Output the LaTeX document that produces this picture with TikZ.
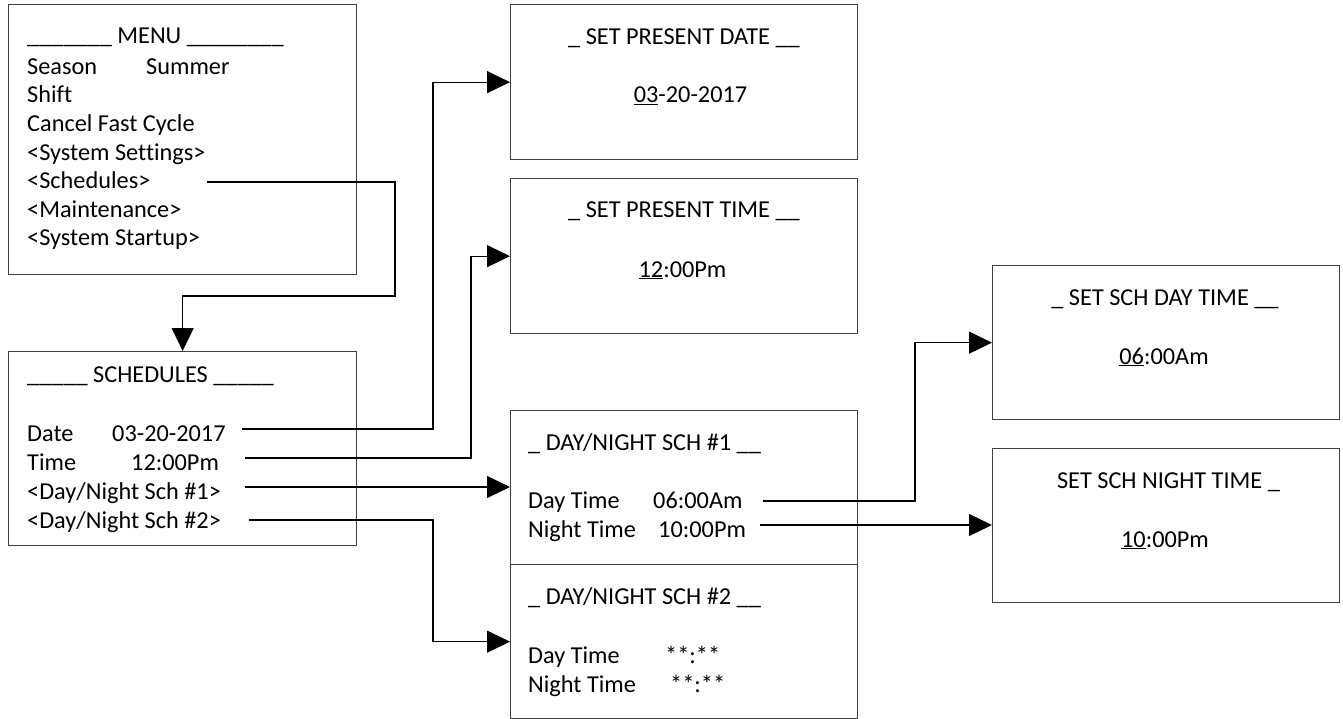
\documentclass[tikz,border=0pt]{standalone}
\usepackage{fontspec}
\setmainfont{Carlito}[Ligatures=NoCommon]
\usetikzlibrary{arrows.meta}
\begin{document}
\begin{tikzpicture}[x=1pt,y=-1pt,
  box/.style={draw=black!75,line width=1.3pt,inner sep=0pt,anchor=north west},
  txt/.style={anchor=base west,inner sep=0pt,font=\fontsize{24.3}{29}\selectfont},
  ctxt/.style={anchor=base,inner sep=0pt,font=\fontsize{24.3}{29}\selectfont},
  wire/.style={draw=black,line width=1.1pt},
  conn/.style={wire,-{Triangle[length=23pt,width=22pt]}}]
\useasboundingbox (0,0) rectangle (1343,719);
% boxes
\node[box,minimum width=348pt,minimum height=270pt] (menu) at (8,4) {};
\node[box,minimum width=348pt,minimum height=194pt] (sched) at (8,351) {};
\node[box,minimum width=347pt,minimum height=155pt] (sdate) at (510,4) {};
\node[box,minimum width=347pt,minimum height=155pt] (stime) at (510,178) {};
\node[box,minimum width=347pt,minimum height=154pt] (dn1) at (510,410) {};
\node[box,minimum width=347pt,minimum height=154pt] (dn2) at (510,564) {};
\node[box,minimum width=347pt,minimum height=154pt] (sday) at (992,265) {};
\node[box,minimum width=347pt,minimum height=154pt] (snight) at (992,448) {};
% menu texts
\node[txt] (m0) at (27,43.5) {\_\_\_\_\_\_\_ MENU \_\_\_\_\_\_\_\_};
\node[txt] (m1) at (27,74.5) {Season};
\node[txt] (m1v) at (146,74.5) {Summer};
\node[txt] (m2) at (27,103) {Shift};
\node[txt] (m3) at (27,132) {Cancel Fast Cycle};
\node[txt] (m4) at (27,160.5) {<System Settings>};
\node[txt] (m5) at (27,189) {<Schedules>};
\node[txt] (m6) at (27,217.5) {<Maintenance>};
\node[txt] (m7) at (27,246) {<System Startup>};
% schedules texts
\node[txt] (s0) at (27,382) {\_\_\_\_\_ SCHEDULES \_\_\_\_\_};
\node[txt] (s1) at (27,441) {Date};
\node[txt] (s1v) at (112,441) {03-20-2017};
\node[txt] (s2) at (27,470) {Time};
\node[txt] (s2v) at (131,470) {12:00Pm};
\node[txt] (s3) at (27,499) {<Day/Night Sch \#1>};
\node[txt] (s4) at (27,528) {<Day/Night Sch \#2>};
% set present date / time
\node[ctxt] (d0) at (684,45) {\_ SET PRESENT DATE \_\_};
\node[ctxt] (d1) at (690.5,103) {\underline{03}-20-2017};
\node[ctxt] (t0) at (684,218) {\_ SET PRESENT TIME \_\_};
\node[ctxt] (t1) at (682.5,277) {\underline{12}:00Pm};
% day/night sch #1
\node[txt] (a0) at (528,450) {\_ DAY/NIGHT SCH \#1 \_\_};
\node[txt] (a1) at (528,508) {Day Time};
\node[txt] (a1v) at (653,508) {06:00Am};
\node[txt] (a2) at (528,537) {Night Time};
\node[txt] (a2v) at (658,537) {10:00Pm};
% day/night sch #2
\node[txt] (b0) at (528,604) {\_ DAY/NIGHT SCH \#2 \_\_};
\node[txt] (b1) at (528,663) {Day Time};
\node[txt] (b1v) at (665,663) {**:**};
\node[txt] (b2) at (528,692) {Night Time};
\node[txt] (b2v) at (670,692) {**:**};
% set sch day / night time
\node[ctxt] (e0) at (1165,305) {\_ SET SCH DAY TIME \_\_};
\node[ctxt] (e1) at (1164,364) {\underline{06}:00Am};
\node[ctxt] (f0) at (1168.5,488) {SET SCH NIGHT TIME \_};
\node[ctxt] (f1) at (1165,547) {\underline{10}:00Pm};
% connector start points
\coordinate (cS) at (207,182);
\coordinate (cDate) at (242,429);
\coordinate (cTime) at (245,458);
\coordinate (cDN1) at (245,487);
\coordinate (cDN2) at (249,520);
\coordinate (cDay) at (763,501);
\coordinate (cNight) at (760,525);
% connectors
\draw[conn] (cS) -| (395,296) -| (sched.north);
\draw[conn] (cDate) -| (433,250) |- (sdate.west);
\draw[conn] (cTime) -| (471,350) |- (stime.west);
\draw[conn] (cDN1) -- (cDN1 -| dn1.west);
\draw[conn] (cDN2) -| (433,600) |- (dn2.west);
\draw[conn] (cDay) -| (915,400) |- (sday.west);
\draw[conn] (cNight) -- (cNight -| snight.west);
\end{tikzpicture}
\end{document}
